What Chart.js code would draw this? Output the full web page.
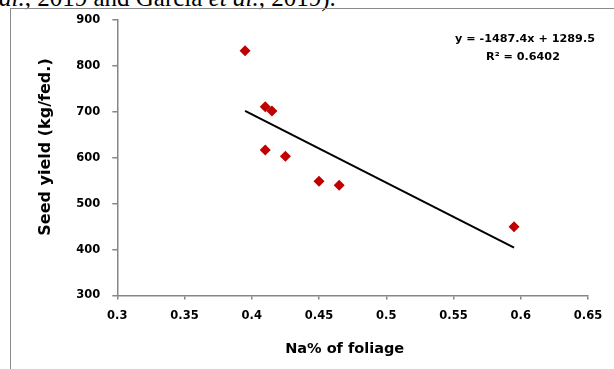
<!DOCTYPE html>
<html>
<head>
<meta charset="utf-8">
<script src="https://cdn.jsdelivr.net/npm/chart.js@4.4.1/dist/chart.umd.min.js"></script>
<style>
  html, body { margin: 0; padding: 0; background: #fff; }
  #wrap { position: relative; width: 614px; height: 369px; overflow: hidden; }
  #cite {
    position: absolute; left: -1px; top: -15px; white-space: nowrap;
    font-family: "Liberation Serif", "DejaVu Serif", serif; font-size: 25px; line-height: 25px; color: #000;
  }
  #frame {
    position: absolute; left: 10px; top: 8px; width: 700px; height: 500px;
    border: 1.5px solid #8a8a8a;
  }
  canvas { position: absolute; left: 0; top: 0; }
</style>
</head>
<body>
<div id="wrap">
  <div id="cite"><i>al.</i>, 2019 and García <i>et al.</i>, 2019).</div>
  <div id="frame"></div>
  <canvas id="c" width="614" height="369"></canvas>
</div>
<script>
// Na% of foliage vs seed yield
const na_pct = [0.395, 0.41, 0.415, 0.41, 0.425, 0.45, 0.465, 0.595];
const seed_yield = [833, 711, 702, 617, 603, 549, 540, 450];

// trendline as printed on the chart
const slope = -1487.4;
const intercept = 1289.5;
const eq_lines = ['y = -1487.4x + 1289.5', 'R\u00b2 = 0.6402'];

const x_title = 'Na% of foliage';
const y_title = 'Seed yield (kg/fed.)';

const FONT = '"DejaVu Sans", sans-serif';
const AXIS_GRAY = '#868686';

const points = na_pct.map((x, i) => ({ x, y: seed_yield[i] }));
const xmin = Math.min(...na_pct), xmax = Math.max(...na_pct);
const trend = [xmin, xmax].map(x => ({ x, y: slope * x + intercept }));

// titles + equation, drawn on the canvas at fixed spots
const textPlugin = {
  id: 'extraText',
  afterDraw(chart) {
    const { ctx, chartArea } = chart;
    ctx.save();
    ctx.fillStyle = '#000';
    ctx.textAlign = 'center';
    ctx.textBaseline = 'middle';

    ctx.font = 'bold 11.2px ' + FONT;
    ctx.fillText(eq_lines[0], 525, 39);
    ctx.fillText(eq_lines[1], 523, 57);

    ctx.font = 'bold 14.5px ' + FONT;
    ctx.fillText(x_title, (chartArea.left + chartArea.right) / 2 - 8, 349);

    ctx.translate(46, 147);
    ctx.rotate(-Math.PI / 2);
    ctx.font = 'bold 16px ' + FONT;
    ctx.fillText(y_title, 0, 0);
    ctx.restore();
  }
};

new Chart(document.getElementById('c'), {
  type: 'scatter',
  data: {
    datasets: [
      {
        label: 'Seed yield',
        data: points,
        pointStyle: 'rectRot',
        pointRadius: 5.5,
        pointHoverRadius: 5.5,
        backgroundColor: '#c00000',
        borderColor: '#c00000',
        borderWidth: 0,
        order: 1
      },
      {
        type: 'line',
        label: 'Linear',
        data: trend,
        borderColor: '#000',
        borderWidth: 2,
        pointRadius: 0,
        fill: false,
        order: 2
      }
    ]
  },
  options: {
    responsive: false,
    animation: false,
    events: [],
    layout: { padding: { top: 20, right: 26, left: 0, bottom: 0 } },
    plugins: { legend: { display: false }, tooltip: { enabled: false } },
    scales: {
      x: {
        type: 'linear',
        min: 0.3, max: 0.65,
        afterFit: s => { s.height = 73.5; },
        border: { display: true, color: AXIS_GRAY, width: 1.5 },
        grid: { drawOnChartArea: false, drawTicks: true, tickLength: 4, color: AXIS_GRAY, lineWidth: 1.5 },
        ticks: {
          stepSize: 0.05, padding: 10, color: '#000',
          font: { family: FONT, size: 11.5, weight: 'bold' },
          callback: v => String(+v.toFixed(2))
        }
      },
      y: {
        min: 300, max: 900,
        afterFit: s => { s.width = 117.3; },
        border: { display: true, color: AXIS_GRAY, width: 1.5 },
        grid: { drawOnChartArea: false, drawTicks: true, tickLength: 5, color: AXIS_GRAY, lineWidth: 1.5 },
        ticks: {
          stepSize: 100, padding: 12, color: '#000',
          font: { family: FONT, size: 11.5, weight: 'bold' }
        }
      }
    }
  },
  plugins: [textPlugin]
});
</script>
</body>
</html>
